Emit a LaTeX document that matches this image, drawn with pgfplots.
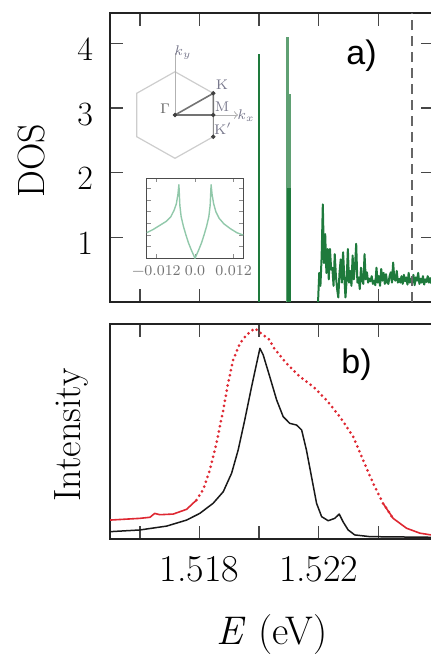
\documentclass[border=0pt]{standalone}
\usepackage{fontspec}
\usepackage{pgfplots}
\pgfplotsset{compat=1.18}
\newfontfamily\arialfont{Liberation Sans}
\definecolor{dosgreen}{RGB}{30,122,60}
\definecolor{lightdos}{RGB}{95,160,115}
\definecolor{insetgreen}{RGB}{145,200,170}
\definecolor{pred}{RGB}{222,40,50}
\definecolor{framec}{RGB}{35,35,35}
\definecolor{tickc}{RGB}{70,70,70}
\definecolor{hexgray}{RGB}{205,205,205}
\definecolor{bzlabel}{RGB}{120,120,140}
\begin{document}
\begin{tikzpicture}
\pgfplotsset{
  panel/.style={
    scale only axis, width=162pt,
    xmin=1.515, xmax=1.52587,
    axis line style={framec, line width=1.4pt},
    tick style={tickc, line width=0.7pt},
    major tick length=6.5pt,
    tick align=inside,
    xtick={1.516,1.518,1.520,1.522,1.524},
    /pgf/number format/assume math mode=true,
  }
}
% ---------- top panel: DOS ----------
\begin{axis}[panel, at={(55pt,176.5pt)}, anchor=south west, height=144.5pt,
  ymin=0, ymax=4.47, ytick={1,2,3,4}, xticklabels={},
  yticklabel style={font=\fontsize{17}{20}\selectfont, xshift=-5pt, yshift=-3pt},
  ylabel={DOS},
  ylabel style={font=\fontsize{19}{22}\selectfont, at={(axis description cs:-0.2407,0.489)}, anchor=center}]
\addplot[dosgreen, line width=0.9pt] coordinates {(1.52000,0) (1.52000,3.84)};
\addplot[lightdos, line width=1.3pt] coordinates {(1.52095,0) (1.52095,4.10)};
\addplot[lightdos, line width=1.0pt] coordinates {(1.52105,0) (1.52105,3.22)};
\addplot[dosgreen, line width=2pt] coordinates {(1.52100,0) (1.52100,1.77)};
\addplot[dosgreen, line width=1.0pt, line join=round] coordinates {
(1.52198,0.00) (1.52202,0.45) (1.52206,0.25) (1.52210,0.70) (1.52214,1.51)
(1.52218,0.60) (1.52222,1.05) (1.52226,0.45) (1.52230,0.82) (1.52234,0.35)
(1.52238,0.82) (1.52242,0.50) (1.52246,0.53) (1.52250,0.25) (1.52254,0.74)
(1.52258,0.40) (1.52262,0.20) (1.52266,0.07) (1.52270,0.45) (1.52274,0.66)
(1.52278,0.30) (1.52282,0.77) (1.52286,0.40) (1.52290,0.07) (1.52294,0.35)
(1.52298,0.82) (1.52302,0.30) (1.52306,0.48) (1.52310,0.25) (1.52314,0.72)
(1.52318,0.35) (1.52322,0.55) (1.52326,0.90) (1.52330,0.30) (1.52334,0.38)
(1.52338,0.20) (1.52342,0.53) (1.52346,0.33) (1.52350,0.28) (1.52354,0.74)
(1.52358,0.35) (1.52362,0.46) (1.52366,0.30) (1.52370,0.36) (1.52374,0.32)
(1.52378,0.40) (1.52382,0.28) (1.52386,0.33) (1.52390,0.26) (1.52394,0.53)
(1.52398,0.30) (1.52402,0.40) (1.52406,0.25) (1.52410,0.51) (1.52414,0.33)
(1.52418,0.45) (1.52422,0.28) (1.52426,0.43) (1.52430,0.30) (1.52434,0.28)
(1.52438,0.40) (1.52442,0.46) (1.52446,0.30) (1.52450,0.61) (1.52454,0.35)
(1.52458,0.33) (1.52462,0.48) (1.52466,0.30) (1.52470,0.36) (1.52474,0.30)
(1.52478,0.40) (1.52482,0.28) (1.52486,0.42) (1.52490,0.32) (1.52494,0.38)
(1.52498,0.27) (1.52502,0.45) (1.52506,0.30) (1.52510,0.36) (1.52514,0.30)
(1.52518,0.42) (1.52522,0.26) (1.52526,0.38) (1.52530,0.33) (1.52534,0.45)
(1.52538,0.28) (1.52542,0.36) (1.52546,0.30) (1.52550,0.40) (1.52554,0.27)
(1.52558,0.35) (1.52562,0.31) (1.52566,0.40) (1.52570,0.30) (1.52574,0.37)
(1.52578,0.29) (1.52582,0.36) (1.52586,0.32) (1.52590,0.34)};
\addplot[black!60, line width=1pt, dash pattern=on 5pt off 3pt] coordinates {(1.52512,0) (1.52512,4.47)};
\node[font=\fontsize{17}{20}\arialfont] at (axis cs:1.52344,3.81) {a)};
\end{axis}
% ---------- bottom panel: intensity ----------
\begin{axis}[panel, at={(55pt,58pt)}, anchor=south west, height=107.5pt,
  ymin=0, ymax=1, ytick=\empty,
  xticklabels={,1.518,,1.522,},
  xticklabel style={font=\fontsize{19}{22}\selectfont, yshift=-5pt},
  xlabel={\textit{E} (eV)},
  xlabel style={font=\fontsize{20}{24}\selectfont, at={(axis description cs:0.5,-0.4465)}, anchor=center},
  ylabel={Intensity},
  ylabel style={font=\fontsize{19}{22}\selectfont, at={(axis description cs:-0.118,0.484)}, anchor=center}]
% red (dots) series
\addplot[pred, line width=0.8pt, line join=round] coordinates {
(1.51499,0.088) (1.51600,0.096) (1.51634,0.101) (1.51650,0.119) (1.51667,0.113)
(1.51712,0.116) (1.51757,0.138) (1.51790,0.181)};
\addplot[pred, line width=1.5pt, line cap=round, dash pattern=on 0pt off 2.6pt] coordinates {
(1.51790,0.181) (1.51812,0.228) (1.51835,0.321) (1.51857,0.445) (1.51880,0.600)
(1.51896,0.724) (1.51913,0.833) (1.51936,0.910) (1.51958,0.949) (1.51986,0.980)
(1.52014,0.949) (1.52036,0.926) (1.52047,0.894) (1.52092,0.817) (1.52137,0.755)
(1.52182,0.708) (1.52226,0.647) (1.52271,0.569) (1.52316,0.476) (1.52349,0.367)
(1.52383,0.259) (1.52416,0.166) (1.52450,0.096)};
\addplot[pred, line width=0.8pt, line join=round] coordinates {
(1.52416,0.166) (1.52450,0.096) (1.52495,0.050) (1.52540,0.027) (1.52577,0.019) (1.52590,0.018)};
% black series
\addplot[black!90, line width=0.75pt, line join=round] coordinates {
(1.51499,0.034) (1.51600,0.042) (1.51690,0.060) (1.51757,0.088) (1.51801,0.119)
(1.51846,0.166) (1.51880,0.220) (1.51908,0.306) (1.51930,0.414) (1.51952,0.553)
(1.51975,0.708) (1.51992,0.817) (1.52003,0.887) (1.52014,0.856) (1.52036,0.755)
(1.52059,0.647) (1.52081,0.569) (1.52103,0.538) (1.52126,0.530) (1.52143,0.507)
(1.52159,0.414) (1.52176,0.290) (1.52193,0.166) (1.52210,0.104) (1.52232,0.085)
(1.52254,0.096) (1.52269,0.116) (1.52282,0.080) (1.52299,0.042) (1.52321,0.019)
(1.52372,0.011) (1.52577,0.008) (1.52590,0.008)};
\node[font=\fontsize{17}{20}\arialfont] at (axis cs:1.52327,0.809) {b)};
\end{axis}
% ---------- inset: DOS of the lattice ----------
\begin{axis}[at={(73.35pt,198.35pt)}, anchor=south west, scale only axis,
  width=48.3pt, height=40pt, xmin=-0.015, xmax=0.015, ymin=0, ymax=1,
  scaled x ticks=false, scaled y ticks=false,
  axis line style={black!70, line width=0.7pt},
  tick align=inside, major tick length=2pt, tick style={black!45, line width=0.4pt},
  xtick={-0.012,0,0.012}, xticklabels={−0.012,0.0,0.012},
  ytick={0.146,0.292,0.438,0.584,0.730,0.876}, yticklabels={},
  xticklabel style={font=\fontsize{7.5}{9}\selectfont, text=black!55}]
\addplot[insetgreen, line width=0.7pt, line join=round] coordinates {
(-0.0150,0.32) (-0.0130,0.36) (-0.0110,0.41) (-0.0090,0.46) (-0.0075,0.52)
(-0.0065,0.60) (-0.0058,0.68) (-0.0053,0.80) (-0.0050,0.92) (-0.0047,0.66)
(-0.0043,0.52) (-0.0036,0.40) (-0.0028,0.29) (-0.0020,0.19) (-0.0010,0.09)
(0,0.0)
(0.0010,0.09) (0.0020,0.19) (0.0028,0.29) (0.0036,0.40) (0.0043,0.52)
(0.0047,0.66) (0.0050,0.92) (0.0053,0.80) (0.0058,0.68) (0.0065,0.58)
(0.0075,0.50) (0.0090,0.43) (0.0110,0.37) (0.0130,0.32) (0.0150,0.29)};
\end{axis}
% ---------- inset: Brillouin zone sketch ----------
\begin{axis}[at={(0pt,0pt)}, anchor=south west, scale only axis,
  width=215.5pt, height=327.5pt, xmin=0, xmax=431, ymin=0, ymax=655,
  y dir=reverse, axis lines=none, clip=false]
\addplot[hexgray, line width=0.6pt] coordinates {
(175,71.7) (213.3,93.3) (213.3,136.7) (175,158.3) (136.7,136.7) (136.7,93.3) (175,71.7)};
\addplot[black!30, line width=0.5pt] coordinates {(175,115) (175,53)};
\addplot[black!30, line width=0.5pt, ->] coordinates {(175,115) (238,115)};
\addplot[black!55, line width=0.8pt] coordinates {(175,115) (213.3,93.3) (213.3,115) (175,115)};
\addplot[black!45, line width=0.6pt] coordinates {(213.3,115) (213.3,136.7)};
\addplot[only marks, mark=*, mark size=0.9pt, black!75] coordinates {(175,115) (213.3,93.3) (213.3,115) (213.3,136.7)};
\node[font=\fontsize{7}{8}\selectfont, text=black!60] at (axis cs:165,109) {$\Gamma$};
\node[font=\fontsize{7}{8}\selectfont, text=bzlabel] at (axis cs:222,85) {K};
\node[font=\fontsize{7}{8}\selectfont, text=bzlabel] at (axis cs:222,107) {M};
\node[font=\fontsize{7}{8}\selectfont, text=bzlabel] at (axis cs:223,129) {K$'$};
\node[font=\fontsize{7}{8}\selectfont, text=bzlabel] at (axis cs:183,53) {$k_y$};
\node[font=\fontsize{7}{8}\selectfont, text=bzlabel] at (axis cs:246,116) {$k_x$};
\end{axis}
\pgfresetboundingbox
\path[use as bounding box] (0pt,0pt) rectangle (215.5pt,327.5pt);
\end{tikzpicture}
\end{document}
